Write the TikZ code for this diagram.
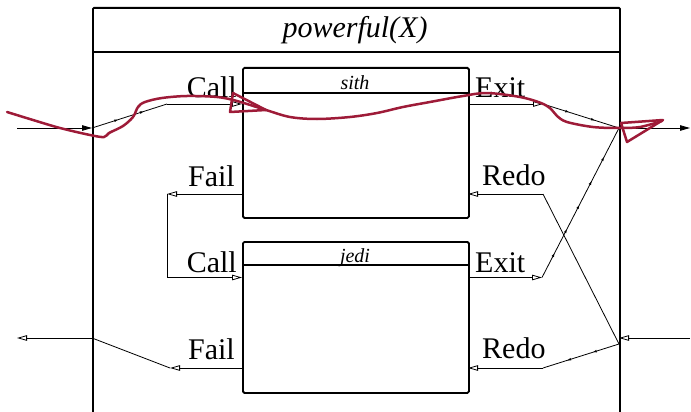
\documentclass[tikz,border=0pt]{standalone}
\usepackage{fontspec}
\setmainfont{Liberation Serif}
\usetikzlibrary{arrows.meta,calc,decorations.markings}
\definecolor{inkred}{RGB}{158,27,56}

\begin{document}
\begin{tikzpicture}[x=1pt,y=-1pt,
  frame/.style={draw, line width=1.8pt, rounded corners=1pt, inner sep=0pt, anchor=north west},
  goalbox/.style={draw, line width=1.8pt, rounded corners=1.5pt, inner sep=0pt, anchor=north west,
                  minimum width=226pt, minimum height=150pt},
  rule/.style={line width=1.1pt},
  port/.style={font=\fontsize{30}{36}\selectfont, inner sep=0pt},
  goalname/.style={font=\itshape\fontsize{20}{24}\selectfont, inner sep=0pt, anchor=base},
  wire/.style={line width=0.8pt},
  tip/.style={wire, -{Triangle[open,length=10pt,width=5.5pt]}},
  solidtip/.style={wire, -{Triangle[length=10pt,width=5.5pt]}},
  ticks/.style={postaction={decorate}, decoration={markings,
      mark=between positions 27pt and -20pt step 27pt with {\arrow{Triangle[open,length=3.5pt,width=2.4pt]}}}},
  ink/.style={draw=inkred, line width=2.5pt, line cap=round, line join=round}
]
\useasboundingbox (0,0) rectangle (691,412);

% enclosing clause box with its head
\node[frame, minimum width=527pt, minimum height=440pt] (outer) at (92,7) {};
\coordinate (headL) at (92,52);
\coordinate (headR) at (619,52);
\draw[line width=1.8pt] (headL) -- (headR);
\node[font=\itshape\fontsize{30}{36}\selectfont, inner sep=0pt, anchor=base] (title) at (355,38) {powerful(X)};

% subgoal boxes
\node[goalbox] (sith) at (242,67) {};
\node[goalbox, minimum height=151pt] (jedi) at (242,241) {};
\coordinate (sithHL) at (242,93);  \coordinate (sithHR) at (468,93);
\coordinate (jediHL) at (242,265); \coordinate (jediHR) at (468,265);
\draw[rule] (sithHL) -- (sithHR);
\draw[rule] (jediHL) -- (jediHR);
\node[goalname] (sithname) at (355,89) {sith};
\node[goalname] (jediname) at (355,262) {jedi};

% port labels
\node[port, anchor=base east] (lsCall) at (237,98) {Call};
\node[port, anchor=base west] (lsExit) at (475,98) {Exit};
\node[port, anchor=base east] (lsFail) at (235,186) {Fail};
\node[port, anchor=base west] (lsRedo) at (482,185) {Redo};
\node[port, anchor=base east] (ljCall) at (237,272) {Call};
\node[port, anchor=base west] (ljExit) at (475,272) {Exit};
\node[port, anchor=base east] (ljFail) at (235,359) {Fail};
\node[port, anchor=base west] (ljRedo) at (482,358) {Redo};

% port points on the boxes
\coordinate (sCall) at (242,104);   \coordinate (sExit) at (468,104);
\coordinate (sFail) at (242,194);   \coordinate (sRedo) at (468,194);
\coordinate (jCall) at (242,277.5); \coordinate (jExit) at (468,277.5);
\coordinate (jFail) at (242,368);   \coordinate (jRedo) at (468,368);

% bends and outer ports
\coordinate (inCall) at (17,128);  \coordinate (oCall) at (92,128);
\coordinate (outExit) at (690,128); \coordinate (oExit) at (619,128);
\coordinate (inRedo) at (690,338);  \coordinate (oRedoIn) at (619,338);
\coordinate (oRedo) at (619,344);
\coordinate (outFail) at (17,338);  \coordinate (oFail) at (92,338);
\coordinate (bsCall) at (167,104);  \coordinate (bsExit) at (543,104);
\coordinate (bsFail) at (167,194);  \coordinate (bsRedo) at (543,194);
\coordinate (bjCall) at (167,277.5); \coordinate (bjExit) at (542,277.5);
\coordinate (bjFail) at (170,368);  \coordinate (bjRedo) at (543,368);

% call into sith
\draw[solidtip] (inCall) -- (oCall);
\draw[wire, ticks] (oCall) -- (bsCall);
\draw[tip] (bsCall) -- (sCall);
% exit out of sith
\draw[tip] (sExit) -- (bsExit);
\draw[wire, ticks] (bsExit) -- (oExit);
\draw[solidtip] (oExit) -- (outExit);
% sith fails: go on to jedi
\draw[tip] (sFail) -- (bsFail);
\draw[tip] (bsFail) -- (bjCall) -- (jCall);
% jedi exit
\draw[tip] (jExit) -- (bjExit);
\draw[wire, ticks] (bjExit) -- (oExit);
% redo entering from the right
\draw[tip] (inRedo) -- (oRedoIn);
\draw[wire] (oRedo) -- (bsRedo);
\draw[tip] (bsRedo) -- (sRedo);
\draw[wire, ticks] (oRedo) -- (bjRedo);
\draw[tip] (bjRedo) -- (jRedo);
% jedi fails: the clause fails
\draw[tip] (jFail) -- (bjFail);
\draw[wire] (bjFail) -- (oFail);
\draw[tip] (oFail) -- (outFail);

% hand-drawn trace of the successful path
\draw[ink] plot[smooth, tension=0.55] coordinates {
  (7,112) (33,120) (60,128) (90,135) (104,137) (109,133) (123,126) (133,117)
  (138,107) (145,102) (162,98) (187,96) (217,97) (237,101) (266,110)
  (290,117) (317,119) (350,117) (377,113) (403,107) (430,102) (463,96)
  (487,93) (520,97) (541,103) (551,109) (557,116) (567,122) (593,127)
  (619,128) (640,127) (662,121)};
\draw[ink] (233,93) -- (230,112) -- (266,110) -- cycle;
\draw[ink] (621,123) -- (627,142) -- (663,120) -- cycle;
\end{tikzpicture}
\end{document}
